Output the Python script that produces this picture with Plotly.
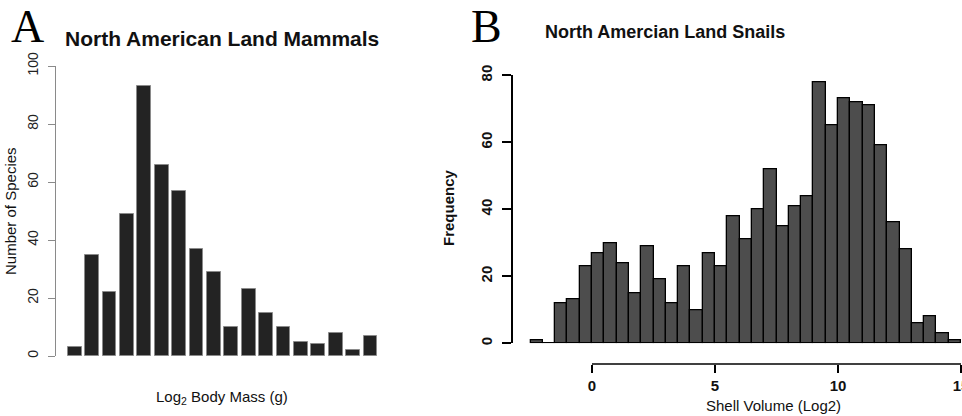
import plotly.graph_objects as go

# ---------------- data ----------------
# Panel A: North American land mammals (counts per log2 body-mass bin)
mammal_bins = list(range(1, 19))
mammal_counts = [3, 35, 22, 49, 93, 66, 57, 37, 29, 10, 23, 15, 10, 5, 4, 8, 2, 7]
mammal_yticks = [0, 20, 40, 60, 80, 100]

# Panel B: North American land snails (histogram of log2 shell volume, bin width 0.5)
snail_bin_left = [-2.5, -2.0, -1.5, -1.0, -0.5, 0.0, 0.5, 1.0, 1.5, 2.0, 2.5, 3.0,
                  3.5, 4.0, 4.5, 5.0, 5.5, 6.0, 6.5, 7.0, 7.5, 8.0, 8.5, 9.0,
                  9.5, 10.0, 10.5, 11.0, 11.5, 12.0, 12.5, 13.0, 13.5, 14.0, 14.5]
snail_counts = [1, 0, 12, 13, 23, 27, 30, 24, 15, 29, 19, 12,
                23, 10, 27, 23, 38, 31, 40, 52, 35, 41, 44, 78,
                65, 73, 72, 71, 59, 36, 28, 6, 8, 3, 1]
snail_bin_width = 0.5
snail_xticks = [0, 5, 10, 15]
snail_yticks = [0, 20, 40, 60, 80]

W, H = 962, 416
def px(x):
    return x / W
def py(y):
    return (H - y) / H

SANS = "Liberation Sans, Arial, Helvetica, sans-serif"
SERIF = "Liberation Serif, Times New Roman, serif"

fig = go.Figure()

fig.add_trace(go.Bar(
    x=mammal_bins, y=mammal_counts, width=0.8,
    marker=dict(color="#232323", line=dict(color="#8a8a8a", width=1)),
    xaxis="x", yaxis="y", showlegend=False, hoverinfo="skip"))

fig.add_trace(go.Bar(
    x=snail_bin_left, y=snail_counts, width=snail_bin_width, offset=0,
    marker=dict(color="#4d4d4d", line=dict(color="#000000", width=1.3)),
    xaxis="x2", yaxis="y2", showlegend=False, hoverinfo="skip"))

# snail x scale: value 0 at 592 px, 24.6 px per unit
x0_px, ppu = 592.0, 24.6
x2_lo = (520 - x0_px) / ppu
x2_hi = (962 - x0_px) / ppu

fig.update_layout(
    width=W, height=H,
    margin=dict(l=0, r=0, t=0, b=0, autoexpand=False),
    paper_bgcolor="white", plot_bgcolor="white",
    bargap=0,
    font=dict(family=SANS, color="#222"),
    xaxis=dict(domain=[px(66), px(379.2)], range=[0.5, 18.5], visible=False,
               fixedrange=True, automargin=False),
    yaxis=dict(domain=[py(356), py(66)], range=[0, 100], anchor="free",
               position=px(55), showline=True, linecolor="#8a8a8a", linewidth=1,
               ticks="outside", ticklen=7, tickcolor="#8a8a8a", tickwidth=1,
               tickvals=mammal_yticks, tickangle=-90, automargin=False,
               tickfont=dict(size=14, color="#222", family=SANS),
               showgrid=False, zeroline=False, ticklabelstandoff=4),
    xaxis2=dict(domain=[px(520), 1.0], range=[x2_lo, x2_hi], anchor="free",
                position=py(364), showline=False, ticks="outside", ticklen=8,
                tickwidth=1.5, tickcolor="#000", tickvals=snail_xticks,
                ticklabeloverflow="allow", automargin=False,
                tickfont=dict(size=15, color="#111", family=SANS, weight="bold"),
                showgrid=False, zeroline=False),
    yaxis2=dict(domain=[py(343.3), py(75.3)], range=[0, 80], anchor="free",
                position=px(512), showline=True, linecolor="#000", linewidth=1.5,
                ticks="outside", ticklen=9, tickcolor="#000", tickwidth=1.5,
                tickvals=snail_yticks, tickangle=-90, automargin=False,
                tickfont=dict(size=15, color="#111", family=SANS, weight="bold"),
                showgrid=False, zeroline=False, ticklabelstandoff=4),
)

# detached x-axis line for panel B spanning first..last tick
fig.add_shape(type="line", xref="x2", yref="paper",
              x0=snail_xticks[0], x1=snail_xticks[-1], y0=py(364), y1=py(364),
              line=dict(color="#000", width=1.5))

def ann(text, x, y, size, family=SANS, bold=False, angle=0, color="#111"):
    fig.add_annotation(text=text, x=px(x), y=py(y), xref="paper", yref="paper",
                       showarrow=False, xanchor="center", yanchor="middle",
                       textangle=angle,
                       font=dict(size=size, family=family, color=color,
                                 weight="bold" if bold else "normal"))

ann("A", 27, 27, 46, family=SERIF, color="#000")
ann("North American Land Mammals", 222, 38, 21, bold=True)
ann("Number of Species", 10, 211, 15, angle=-90)
ann("Log<sub>2</sub> Body Mass (g)", 222, 397, 15)

ann("B", 487, 27, 46, family=SERIF, color="#000")
ann("North Amercian Land Snails", 665, 32, 18, bold=True)
ann("Frequency", 448, 208, 15, bold=True, angle=-90)
ann("Shell Volume (Log2)", 773, 405, 15)

fig.write_html("out.html")
